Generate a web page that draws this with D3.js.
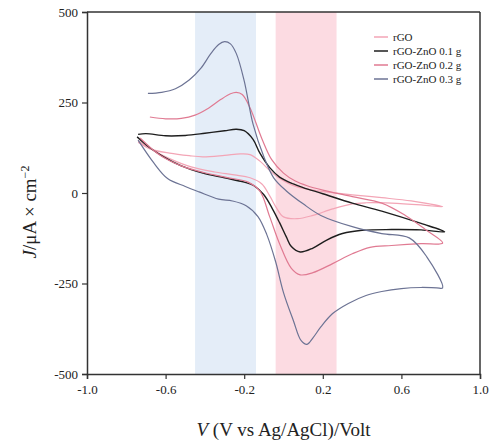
<!DOCTYPE html>
<html>
<head>
<meta charset="utf-8">
<script src="https://cdn.jsdelivr.net/npm/d3@7"></script>
<style>
  html, body { margin: 0; padding: 0; background: #ffffff; }
  svg { display: block; }
  text { font-family: "Liberation Serif", "Times New Roman", serif; fill: #222; }
</style>
</head>
<body>
<svg id="chart" width="492" height="445"></svg>
<script>
// ---- data ----
const seriesNames = ["rGO", "rGO-ZnO 0.1 g", "rGO-ZnO 0.2 g", "rGO-ZnO 0.3 g"];
const seriesColors = ["#f3a5b6", "#1e1e1e", "#e07a92", "#6c7394"];

// each series: [V, J] from start of forward scan to right turn and back
const rGO = [[-0.74,140],[-0.68,122],[-0.58,110],[-0.48,103],[-0.41,100],[-0.3,104],[-0.22,108],[-0.17,106],[-0.12,88],[-0.07,62],[-0.03,44],[0.02,28],[0.07,17],[0.15,8],[0.25,1],[0.35,-5],[0.5,-13],[0.65,-22],[0.81,-38],
  [0.7,-33],[0.55,-28],[0.42,-27],[0.35,-30],[0.25,-44],[0.15,-62],[0.07,-71],[0.0,-66],[-0.035,-42],[-0.07,-8],[-0.11,25],[-0.17,42],[-0.25,50],[-0.35,58],[-0.47,72],[-0.58,95],[-0.67,120],[-0.74,145]];
const rGOZnO01 = [[-0.74,162],[-0.7,164],[-0.6,158],[-0.5,159],[-0.4,165],[-0.3,172],[-0.24,176],[-0.2,172],[-0.155,148],[-0.12,110],[-0.07,70],[-0.02,44],[0.05,25],[0.1,15],[0.2,-2],[0.35,-28],[0.5,-50],[0.7,-84],[0.82,-107],
  [0.7,-102],[0.55,-101],[0.4,-103],[0.3,-112],[0.22,-130],[0.15,-152],[0.085,-163],[0.04,-148],[0.015,-122],[-0.02,-82],[-0.055,-45],[-0.1,-5],[-0.15,20],[-0.2,30],[-0.3,42],[-0.41,55],[-0.52,75],[-0.61,100],[-0.68,125],[-0.745,155]];
const rGOZnO02 = [[-0.68,210],[-0.6,205],[-0.52,206],[-0.45,215],[-0.38,235],[-0.32,258],[-0.27,274],[-0.24,278],[-0.21,272],[-0.17,235],[-0.11,150],[-0.06,92],[0.0,55],[0.06,33],[0.12,20],[0.2,8],[0.35,-10],[0.5,-28],[0.62,-62],[0.72,-100],[0.81,-138],
  [0.7,-140],[0.55,-145],[0.44,-150],[0.35,-168],[0.25,-195],[0.15,-220],[0.085,-226],[0.04,-208],[-0.02,-140],[-0.07,-66],[-0.12,5],[-0.18,30],[-0.28,42],[-0.4,56],[-0.52,75],[-0.63,105],[-0.73,152]];
const rGOZnO03 = [[-0.69,275],[-0.62,278],[-0.55,288],[-0.48,312],[-0.42,345],[-0.37,385],[-0.33,410],[-0.3,418],[-0.27,412],[-0.24,385],[-0.2,310],[-0.155,190],[-0.1,100],[-0.05,42],[0.016,5],[0.1,-30],[0.19,-62],[0.35,-93],[0.5,-112],[0.64,-124],[0.73,-177],[0.81,-262],
  [0.78,-262],[0.7,-261],[0.6,-264],[0.5,-272],[0.42,-283],[0.33,-305],[0.25,-333],[0.19,-370],[0.15,-400],[0.12,-418],[0.09,-408],[0.05,-352],[0.0,-275],[-0.04,-190],[-0.085,-115],[-0.13,-65],[-0.19,-35],[-0.26,-22],[-0.33,-17],[-0.43,3],[-0.5,18],[-0.59,40],[-0.66,83],[-0.74,146]];

const xTicks = [-1.0, -0.6, -0.2, 0.2, 0.6, 1.0];
const xTickLabels = ["-1.0", "-0.6", "-0.2", "0.2", "0.6", "1.0"];
const yTicks = [500, 250, 0, -250, -500];
const yTickLabels = ["500", "250", "0", "-250", "-500"];
const bandBlue = [-0.45, -0.14];
const bandPink = [-0.04, 0.27];

// ---- layout ----
const svg = d3.select("#chart");
const L = 87, R = 480, T = 12, B = 374;
const x = d3.scaleLinear().domain([-1, 1]).range([L, R]);
const y = d3.scaleLinear().domain([-500, 500]).range([B, T]);

// shaded bands
svg.append("rect").attr("x", x(bandBlue[0])).attr("y", T)
  .attr("width", x(bandBlue[1]) - x(bandBlue[0])).attr("height", B - T)
  .attr("fill", "#e4edf8");
svg.append("rect").attr("x", x(bandPink[0])).attr("y", T)
  .attr("width", x(bandPink[1]) - x(bandPink[0])).attr("height", B - T)
  .attr("fill", "#fcdbe2");

// curves
const line = d3.line().x(d => x(d[0])).y(d => y(d[1])).curve(d3.curveCatmullRom.alpha(0.5));
const allSeries = [rGO, rGOZnO01, rGOZnO02, rGOZnO03];
allSeries.forEach((s, i) => {
  svg.append("path").datum(s).attr("d", line)
    .attr("fill", "none").attr("stroke", seriesColors[i])
    .attr("stroke-width", i === 1 ? 1.4 : 1.2);
});

// axes
const xAxis = d3.axisBottom(x).tickValues(xTicks).tickFormat((d, i) => xTickLabels[i]).tickSize(5).tickPadding(6);
const yAxis = d3.axisLeft(y).tickValues(yTicks).tickFormat((d, i) => yTickLabels[i]).tickSize(5).tickPadding(4);
const gx = svg.append("g").attr("transform", `translate(0,${B})`).call(xAxis);
const gy = svg.append("g").attr("transform", `translate(${L},0)`).call(yAxis);
[gx, gy].forEach(g => {
  g.select(".domain").attr("stroke", "#333").attr("stroke-width", 1.5);
  g.selectAll(".tick line").attr("stroke", "#333").attr("stroke-width", 1.2);
  g.selectAll(".tick text").style("font-family", "Liberation Serif, serif").style("font-size", "13px").attr("fill", "#333");
});
// frame top and right
svg.append("line").attr("x1", L).attr("x2", R).attr("y1", T).attr("y2", T).attr("stroke", "#333").attr("stroke-width", 1.5);
svg.append("line").attr("x1", R).attr("x2", R).attr("y1", T).attr("y2", B).attr("stroke", "#333").attr("stroke-width", 1.5);

// axis titles
const xt = svg.append("text").attr("x", (L + R) / 2).attr("y", 436).attr("text-anchor", "middle").style("font-size", "19px");
xt.append("tspan").style("font-style", "italic").text("V");
xt.append("tspan").text(" (V vs Ag/AgCl)/Volt");

const yt = svg.append("text").attr("transform", "translate(36,212) rotate(-90)").attr("text-anchor", "middle").style("font-size", "19px");
yt.append("tspan").style("font-style", "italic").text("J");
yt.append("tspan").text("/μA × cm");
yt.append("tspan").attr("dy", -7).style("font-size", "12px").text("−2");

// legend
const legY = [37, 51, 65, 79];
seriesNames.forEach((n, i) => {
  svg.append("line").attr("x1", 374).attr("x2", 388).attr("y1", legY[i]).attr("y2", legY[i])
    .attr("stroke", seriesColors[i]).attr("stroke-width", 1.5);
  svg.append("text").attr("x", 393).attr("y", legY[i] + 4).style("font-size", "11px").text(n);
});
</script>
</body>
</html>
